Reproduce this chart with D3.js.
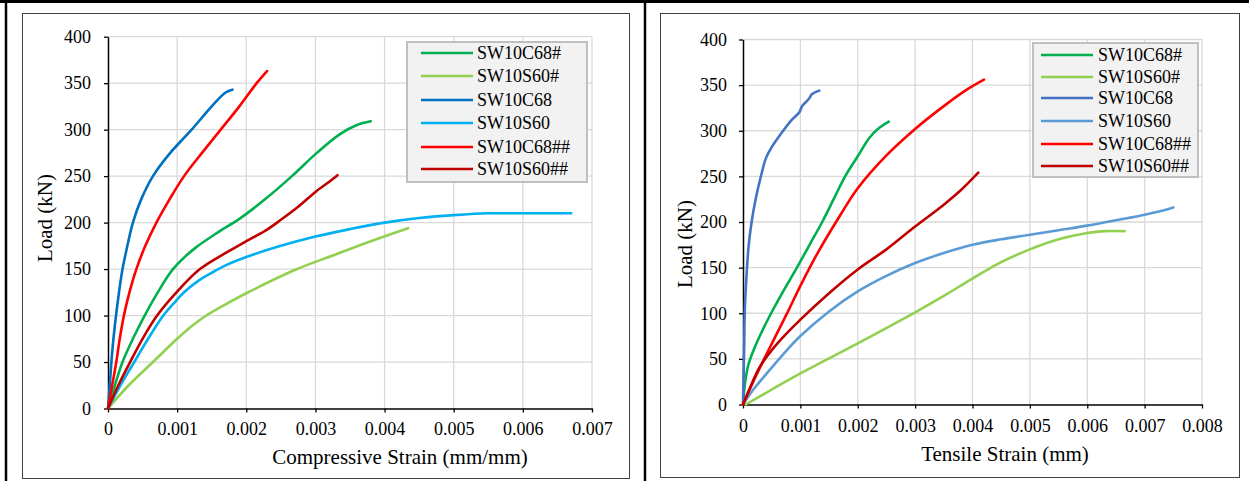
<!DOCTYPE html>
<html>
<head>
<meta charset="utf-8">
<script src="https://cdn.jsdelivr.net/npm/d3@7"></script>
<style>
  html, body { margin: 0; padding: 0; background: #fff; }
  svg { display: block; }
</style>
</head>
<body>
<svg id="chart" width="1249" height="481"></svg>
<script>
const SERIF = '"Liberation Serif", "Times New Roman", Times, serif';

// Series names shared by both panels
const seriesNames = ["SW10C68#", "SW10S60#", "SW10C68", "SW10S60", "SW10C68##", "SW10S60##"];

// Compressive panel colours and tensile panel colours
const compColors = ["#00B050", "#92D050", "#0070C0", "#00B0F0", "#FF0000", "#C00000"];
const tensColors = ["#00B050", "#92D050", "#4472C4", "#5B9BD5", "#FF0000", "#C00000"];

// Tick labels
const loadTicks = [0, 50, 100, 150, 200, 250, 300, 350, 400];
const compStrainTicks = ["0", "0.001", "0.002", "0.003", "0.004", "0.005", "0.006", "0.007"];
const tensStrainTicks = ["0", "0.001", "0.002", "0.003", "0.004", "0.005", "0.006", "0.007", "0.008"];

// Compressive strain (mm/mm) vs load (kN)
const compC68Hash = [[0,0],[0.0001,25],[0.00021,50],[0.00036,75],[0.00053,100],[0.00072,125],[0.00094,150],[0.00125,172],[0.0016,190],[0.0019,204],[0.00227,225],[0.00266,250],[0.00302,275],[0.00335,295],[0.0036,305],[0.0038,309]];
const compS60Hash = [[0,0],[0.0003,25],[0.00065,50],[0.001,75],[0.0012,88],[0.0014,99],[0.0017,112],[0.002,124],[0.0027,149],[0.0033,166],[0.0038,180],[0.00434,194]];
const compC68 = [[0,0],[0.00003,30],[0.00006,60],[0.0001,90],[0.00015,120],[0.00021,150],[0.00028,175],[0.00036,200],[0.00048,225],[0.00065,250],[0.0009,275],[0.00121,300],[0.0015,325],[0.0017,340],[0.0018,343]];
const compS60 = [[0,0],[0.00018,25],[0.00038,50],[0.00058,75],[0.0008,100],[0.00095,113],[0.0011,125],[0.0013,137],[0.0015,146],[0.0017,154],[0.002,163],[0.0025,175],[0.003,185],[0.0035,193],[0.004,200],[0.0045,205],[0.005,208],[0.0055,210],[0.006,210],[0.0067,210]];
const compC68HH = [[0,0],[0.00006,25],[0.00012,50],[0.00017,75],[0.00023,100],[0.00031,125],[0.00041,150],[0.00054,175],[0.0007,200],[0.00089,225],[0.0011,250],[0.00136,275],[0.00163,300],[0.0019,325],[0.00215,350],[0.0023,363]];
const compS60HH = [[0,0],[0.00015,25],[0.00032,50],[0.0005,75],[0.00071,100],[0.00099,125],[0.00133,150],[0.00174,169],[0.002,180],[0.00227,191],[0.0025,203],[0.00275,217],[0.003,233],[0.0032,244],[0.00332,251]];

// Tensile strain (mm) vs load (kN)
const tensC68Hash = [[0,0],[0.00002,15],[0.00005,30],[0.0001,45],[0.0002,62],[0.00033,80],[0.00049,100],[0.0007,124],[0.00094,150],[0.00116,175],[0.00138,200],[0.00158,225],[0.00178,250],[0.002,272],[0.0022,292],[0.00235,302],[0.00254,310]];
const tensS60Hash = [[0.00005,0],[0.001,34],[0.002,67],[0.003,101],[0.0035,119],[0.004,138],[0.0045,156],[0.005,170],[0.0055,181],[0.006,188],[0.0063,190],[0.00665,190]];
const tensC68 = [[0,0],[0.00001,30],[0.00002,60],[0.00003,100],[0.00006,140],[0.0001,175],[0.00015,200],[0.00022,225],[0.00032,252],[0.0004,270],[0.0005,282],[0.0007,300],[0.00085,312],[0.00098,320],[0.00103,327],[0.00115,335],[0.0012,340],[0.00133,344]];
const tensS60 = [[0,0],[0.0002,18],[0.0004,33],[0.0007,55],[0.001,75],[0.0015,102],[0.002,124],[0.0025,141],[0.003,155],[0.0035,166],[0.004,175],[0.0045,181],[0.005,186],[0.0055,191],[0.006,196],[0.0065,202],[0.007,208],[0.0075,216]];
const tensC68HH = [[0,0],[0.0002,28],[0.0004,54],[0.0006,79],[0.0008,104],[0.001,130],[0.0013,166],[0.0017,208],[0.002,237],[0.0025,273],[0.003,302],[0.0035,327],[0.0039,345],[0.0042,356]];
const tensS60HH = [[0,0],[0.0001,15],[0.0003,42],[0.0006,67],[0.001,93],[0.0015,122],[0.002,148],[0.0025,170],[0.003,195],[0.0035,219],[0.0038,235],[0.0041,254]];

const svg = d3.select("#chart");

// Table borders around the two panels
svg.append("line").attr("x1", 0).attr("x2", 1249).attr("y1", 1.5).attr("y2", 1.5)
  .attr("stroke", "#000").attr("stroke-width", 3);
svg.append("line").attr("x1", 6).attr("x2", 6).attr("y1", 0).attr("y2", 481)
  .attr("stroke", "#000").attr("stroke-width", 2.5);
svg.append("line").attr("x1", 645).attr("x2", 645).attr("y1", 0).attr("y2", 481)
  .attr("stroke", "#000").attr("stroke-width", 2.5);

function drawPanel(cfg) {
  const g = svg.append("g");

  // panel frame
  g.append("rect")
    .attr("x", cfg.frame[0] + 0.5).attr("y", cfg.frame[1] + 0.5)
    .attr("width", cfg.frame[2] - cfg.frame[0]).attr("height", cfg.frame[3] - cfg.frame[1])
    .attr("fill", "#fff").attr("stroke", "#404040").attr("stroke-width", 1);

  const x = d3.scaleLinear().domain([0, cfg.xMax]).range([cfg.plot.x0, cfg.plot.x1]);
  const y = d3.scaleLinear().domain([0, 400]).range([cfg.plot.y0, cfg.plot.y1]);
  const xTickVals = cfg.xTicks.map(Number);

  // gridlines
  g.append("g").selectAll("line").data(xTickVals.slice(1)).join("line")
    .attr("x1", d => x(d)).attr("x2", d => x(d))
    .attr("y1", y(0)).attr("y2", y(400))
    .attr("stroke", "#D9D9D9").attr("stroke-width", 1.3);
  g.append("g").selectAll("line").data(loadTicks.slice(1)).join("line")
    .attr("x1", x(0)).attr("x2", x(cfg.xMax))
    .attr("y1", d => y(d)).attr("y2", d => y(d))
    .attr("stroke", "#D9D9D9").attr("stroke-width", 1.3);

  // axes
  const xAxis = d3.axisBottom(x).tickValues(xTickVals)
    .tickFormat((d, i) => cfg.xTicks[i]).tickSize(4).tickPadding(cfg.xPad).tickSizeOuter(0);
  const yAxis = d3.axisLeft(y).tickValues(loadTicks)
    .tickFormat(d3.format("d")).tickSize(4).tickPadding(cfg.yPad).tickSizeOuter(0);

  const gx = g.append("g").attr("transform", `translate(0,${cfg.plot.y0})`).call(xAxis);
  const gy = g.append("g").attr("transform", `translate(${cfg.plot.x0},0)`).call(yAxis);
  [gx, gy].forEach(a => {
    a.attr("font-family", SERIF).attr("font-size", 18);
    a.select(".domain").attr("stroke", "#000").attr("stroke-width", 1.5);
    a.selectAll(".tick line").attr("stroke", "#000").attr("stroke-width", 1.3);
    a.selectAll(".tick text").attr("fill", "#000");
  });

  // series curves
  const line = d3.line().x(d => x(d[0])).y(d => y(d[1])).curve(d3.curveCatmullRom.alpha(0.5));
  cfg.series.forEach((s, i) => {
    g.append("path").datum(s)
      .attr("d", line)
      .attr("fill", "none")
      .attr("stroke", cfg.colors[i])
      .attr("stroke-width", 2.6)
      .attr("stroke-linejoin", "round")
      .attr("stroke-linecap", "round");
  });

  // axis titles
  g.append("text")
    .attr("x", cfg.xTitlePos[0]).attr("y", cfg.xTitlePos[1])
    .attr("text-anchor", "middle")
    .attr("font-family", SERIF).attr("font-size", 21).attr("fill", "#000")
    .text(cfg.xTitle);
  g.append("text")
    .attr("transform", `translate(${cfg.yTitlePos[0]},${cfg.yTitlePos[1]}) rotate(-90)`)
    .attr("text-anchor", "middle")
    .attr("font-family", SERIF).attr("font-size", 21).attr("fill", "#000")
    .text("Load (kN)");

  // legend
  const L = cfg.legend;
  g.append("rect")
    .attr("x", L.box[0]).attr("y", L.box[1])
    .attr("width", L.box[2] - L.box[0]).attr("height", L.box[3] - L.box[1])
    .attr("fill", "#F2F2F2").attr("stroke", "#BFBFBF").attr("stroke-width", 2);
  seriesNames.forEach((name, i) => {
    const yy = L.rows[i];
    g.append("line")
      .attr("x1", L.lineX[0]).attr("x2", L.lineX[1])
      .attr("y1", yy).attr("y2", yy)
      .attr("stroke", cfg.colors[i]).attr("stroke-width", 2.6);
    g.append("text")
      .attr("x", L.textX).attr("y", yy).attr("dy", "0.34em")
      .attr("font-family", SERIF).attr("font-size", 18).attr("fill", "#000")
      .text(name);
  });
}

// Compressive strain panel
drawPanel({
  frame: [22, 13, 629, 478],
  plot: { x0: 108, x1: 592, y0: 408.5, y1: 36.7 },
  xMax: 0.007,
  xTicks: compStrainTicks,
  xPad: 10, yPad: 13,
  colors: compColors,
  series: [compC68Hash, compS60Hash, compC68, compS60, compC68HH, compS60HH],
  xTitle: "Compressive Strain (mm/mm)",
  xTitlePos: [400, 464],
  yTitlePos: [52, 218],
  legend: { box: [407, 42, 587, 182], rows: [53, 76, 100, 123, 147, 169], lineX: [421, 473], textX: 477 }
});

// Tensile strain panel
drawPanel({
  frame: [660, 13, 1239, 477],
  plot: { x0: 743, x1: 1202, y0: 404.5, y1: 39.5 },
  xMax: 0.008,
  xTicks: tensStrainTicks,
  xPad: 11, yPad: 12,
  colors: tensColors,
  series: [tensC68Hash, tensS60Hash, tensC68, tensS60, tensC68HH, tensS60HH],
  xTitle: "Tensile Strain (mm)",
  xTitlePos: [1005, 461],
  yTitlePos: [692, 244],
  legend: { box: [1033, 43, 1198, 177], rows: [55, 77, 98, 121, 144, 166], lineX: [1041, 1093], textX: 1098 }
});
</script>
</body>
</html>
